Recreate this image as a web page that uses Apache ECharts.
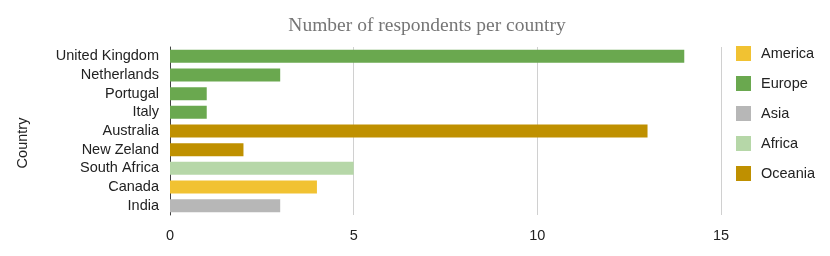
<!DOCTYPE html>
<html>
<head>
<meta charset="utf-8">
<script src="https://cdn.jsdelivr.net/npm/echarts@6/dist/echarts.min.js"></script>
<style>html,body{margin:0;padding:0;background:#fff}#c{width:830px;height:256px}</style>
</head>
<body>
<div id="c"></div>
<script>
const categories = ['United Kingdom', 'Netherlands', 'Portugal', 'Italy', 'Australia', 'New Zeland', 'South Africa', 'Canada', 'India'];
const respondents = [14, 3, 1, 1, 13, 2, 5, 4, 3];
const countryRegion = ['Europe', 'Europe', 'Europe', 'Europe', 'Oceania', 'Oceania', 'Africa', 'America', 'Asia'];
const regions = ['America', 'Europe', 'Asia', 'Africa', 'Oceania'];
const regionColors = ['#f1c232', '#6aa84f', '#b7b7b7', '#b6d7a8', '#bf9000'];
const xTicks = [0, 5, 10, 15];

const series = regions.map((r, i) => ({
  name: r,
  type: 'bar',
  stack: 'all',
  barWidth: 13,
  itemStyle: { color: regionColors[i] },
  data: categories.map((c, j) => countryRegion[j] === r ? respondents[j] : '-')
}));

const chart = echarts.init(document.getElementById('c'), null, { renderer: 'canvas' });
chart.setOption({
  animation: false,
  title: {
    text: 'Number of respondents per country',
    left: 422, top: 11, textAlign: 'center',
    textStyle: { fontFamily: 'Liberation Serif', fontWeight: 'normal', fontSize: 19.5, color: '#757575' }
  },
  legend: {
    orient: 'vertical', left: 731, top: 41,
    itemWidth: 15, itemHeight: 15, itemGap: 15,
    icon: 'rect',
    textStyle: { fontFamily: 'Liberation Sans', fontSize: 14.5, color: '#222', padding: [0, 0, 0, 5] },
    data: regions
  },
  grid: { left: 170, right: 109, top: 47, height: 168, containLabel: false },
  xAxis: {
    type: 'value', min: xTicks[0], max: xTicks[xTicks.length - 1], interval: 5,
    axisLine: { show: false }, axisTick: { show: false },
    splitLine: { show: true, lineStyle: { color: '#d0d0d0', width: 1 } },
    axisLabel: { fontFamily: 'Liberation Sans', fontSize: 14.5, color: '#222', margin: 13 }
  },
  yAxis: {
    type: 'category', data: categories, inverse: true,
    name: 'Country', nameLocation: 'middle', nameGap: 140, nameRotate: 90,
    nameTextStyle: { fontFamily: 'Liberation Sans', fontSize: 14.5, color: '#222', padding: [0, 24, 0, 0] },
    axisLine: { show: true, lineStyle: { color: '#444', width: 1 } },
    axisTick: { show: false },
    axisLabel: { interval: 0, fontFamily: 'Liberation Sans', fontSize: 14.5, color: '#222', margin: 11 }
  },
  series: series
});
</script>
</body>
</html>
